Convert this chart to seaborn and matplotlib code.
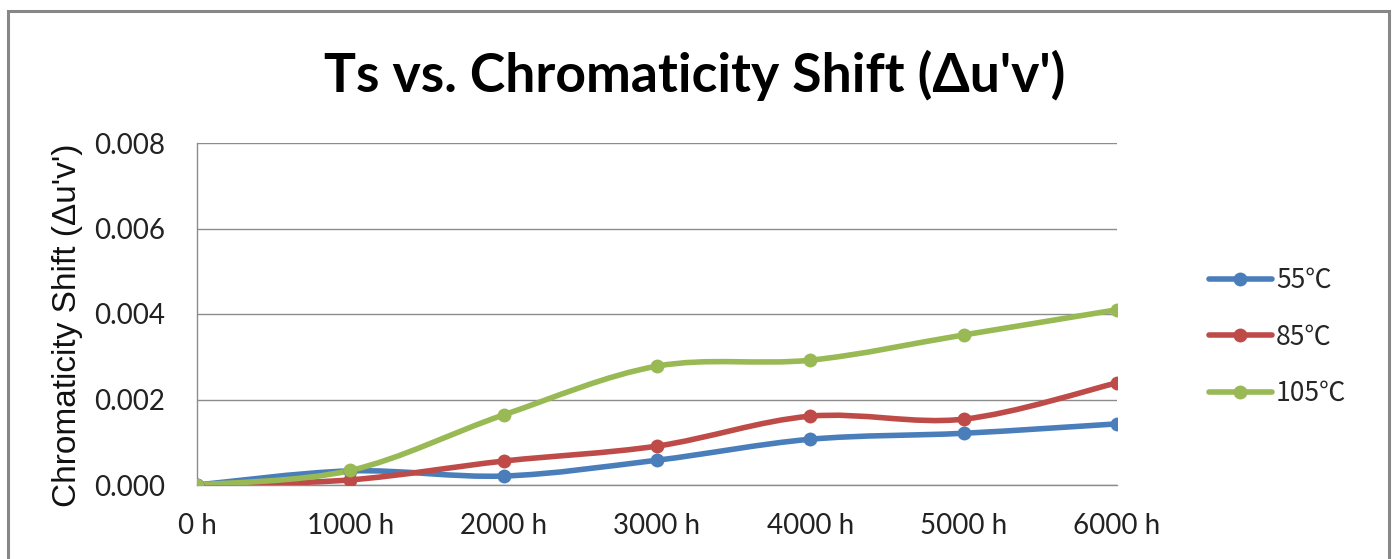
import matplotlib
matplotlib.use("Agg")
import matplotlib.pyplot as plt
from matplotlib.path import Path
from matplotlib.patches import PathPatch, Rectangle
from matplotlib.lines import Line2D
import numpy as np
import pandas as pd
import seaborn as sns

# ------------------------------------
# Data
# ------------------------------------

hours = ["0 h", "1000 h", "2000 h", "3000 h", "4000 h", "5000 h", "6000 h"]

temps = ["55℃", "85℃", "105℃"]

shift_55 = [0.0, 0.00033, 0.00021, 0.00058, 0.00107, 0.00121, 0.00143]
shift_85 = [0.0, 0.00012, 0.00056, 0.00091, 0.00161, 0.00154, 0.00239]
shift_105 = [0.0, 0.00034, 0.00164, 0.00278, 0.00292, 0.00351, 0.00410]

y_ticks = [0.0, 0.002, 0.004, 0.006, 0.008]

colors = ["#4A7EBB", "#BE4B48", "#98B954"]

# ------------------------------------
# Long table for seaborn
# ------------------------------------

rows = []
for temp, values in zip(temps, [shift_55, shift_85, shift_105]):
    for pos, (h, v) in enumerate(zip(hours, values)):
        rows.append({"pos": pos, "hours": h, "temp": temp, "shift": v})
df = pd.DataFrame(rows)


def smooth_path(xs, ys):
    # Excel style smoothed line: cubic Bezier segments (Catmull-Rom)
    pts = np.column_stack([xs, ys]).astype(float)
    ext = np.vstack([pts[0], pts, pts[-1]])
    verts = [pts[0]]
    codes = [Path.MOVETO]
    for i in range(1, len(ext) - 2):
        p0, p1, p2, p3 = ext[i - 1], ext[i], ext[i + 1], ext[i + 2]
        c1 = p1 + (p2 - p0) / 6.0
        c2 = p2 - (p3 - p1) / 6.0
        verts += [c1, c2, p2]
        codes += [Path.CURVE4] * 3
    return Path(verts, codes)


sns.set_style("white")
plt.rcParams["font.family"] = ["Lato", "Noto Sans CJK SC", "DejaVu Sans"]

fig = plt.figure(figsize=(13.92, 5.59), dpi=100)
ax = fig.add_axes([197 / 1392, 1 - 485 / 559, 920 / 1392, 342 / 559])

# smoothed lines
for temp, color in zip(temps, colors):
    sub = df[df["temp"] == temp]
    patch = PathPatch(
        smooth_path(sub["pos"].values, sub["shift"].values),
        facecolor="none",
        edgecolor=color,
        linewidth=4.0,
        capstyle="round",
        joinstyle="round",
        transform=ax.transData,
        zorder=3
    )
    ax.add_patch(patch)

# markers
sns.lineplot(
    data=df,
    x="pos",
    y="shift",
    hue="temp",
    hue_order=temps,
    palette=colors,
    marker="o",
    markersize=10,
    markeredgewidth=0,
    linewidth=0,
    legend=False,
    ax=ax,
    zorder=4
)

ax.set_xlim(0, 6)
ax.set_ylim(0, 0.008)
ax.set_xticks(range(len(hours)))
ax.set_xticklabels(hours)
ax.set_yticks(y_ticks)
ax.set_yticklabels([f"{t:.3f}" for t in y_ticks])

ax.tick_params(axis="both", length=0, labelsize=20, colors="#222222")
ax.tick_params(axis="y", pad=23)
ax.tick_params(axis="x", pad=20)

ax.yaxis.grid(True, color="#8c8c8c", linewidth=1.0)
ax.xaxis.grid(False)
for side in ["top", "right"]:
    ax.spines[side].set_visible(False)
for side in ["left", "bottom"]:
    ax.spines[side].set_color("#8c8c8c")
    ax.spines[side].set_linewidth(1.0)

ax.set_xlabel("")
ax.set_ylabel(
    "Chromaticity Shift (Δu'v')",
    fontsize=24,
    family=["Liberation Sans", "DejaVu Sans"],
    color="#111111"
)
ax.yaxis.set_label_coords(-114 / 920, 0.468)

fig.text(
    695 / 1392,
    1 - 75 / 559,
    "Ts vs. Chromaticity Shift (Δu'v')",
    fontsize=38.5,
    fontweight="bold",
    ha="center",
    va="center",
    color="#000000"
)

# legend
handles = [
    Line2D([0], [0], color=c, linewidth=4.0, marker="o",
           markersize=10, markeredgewidth=0, solid_capstyle="round")
    for c in colors
]
fig.legend(
    handles,
    temps,
    loc="center left",
    bbox_to_anchor=(1185 / 1392, 1 - 337 / 559),
    frameon=False,
    handlelength=2.4,
    handletextpad=0.15,
    labelspacing=1.12,
    prop={"family": ["Noto Sans CJK SC", "DejaVu Sans"], "size": 19}
)

# outer chart border
fig.patches.append(
    Rectangle(
        (8 / 1392, -0.05),
        1381 / 1392,
        1.05 - 11 / 559,
        transform=fig.transFigure,
        fill=False,
        edgecolor="#878787",
        linewidth=2.2,
        zorder=10
    )
)

plt.savefig("out.png", dpi=100)
plt.close()
